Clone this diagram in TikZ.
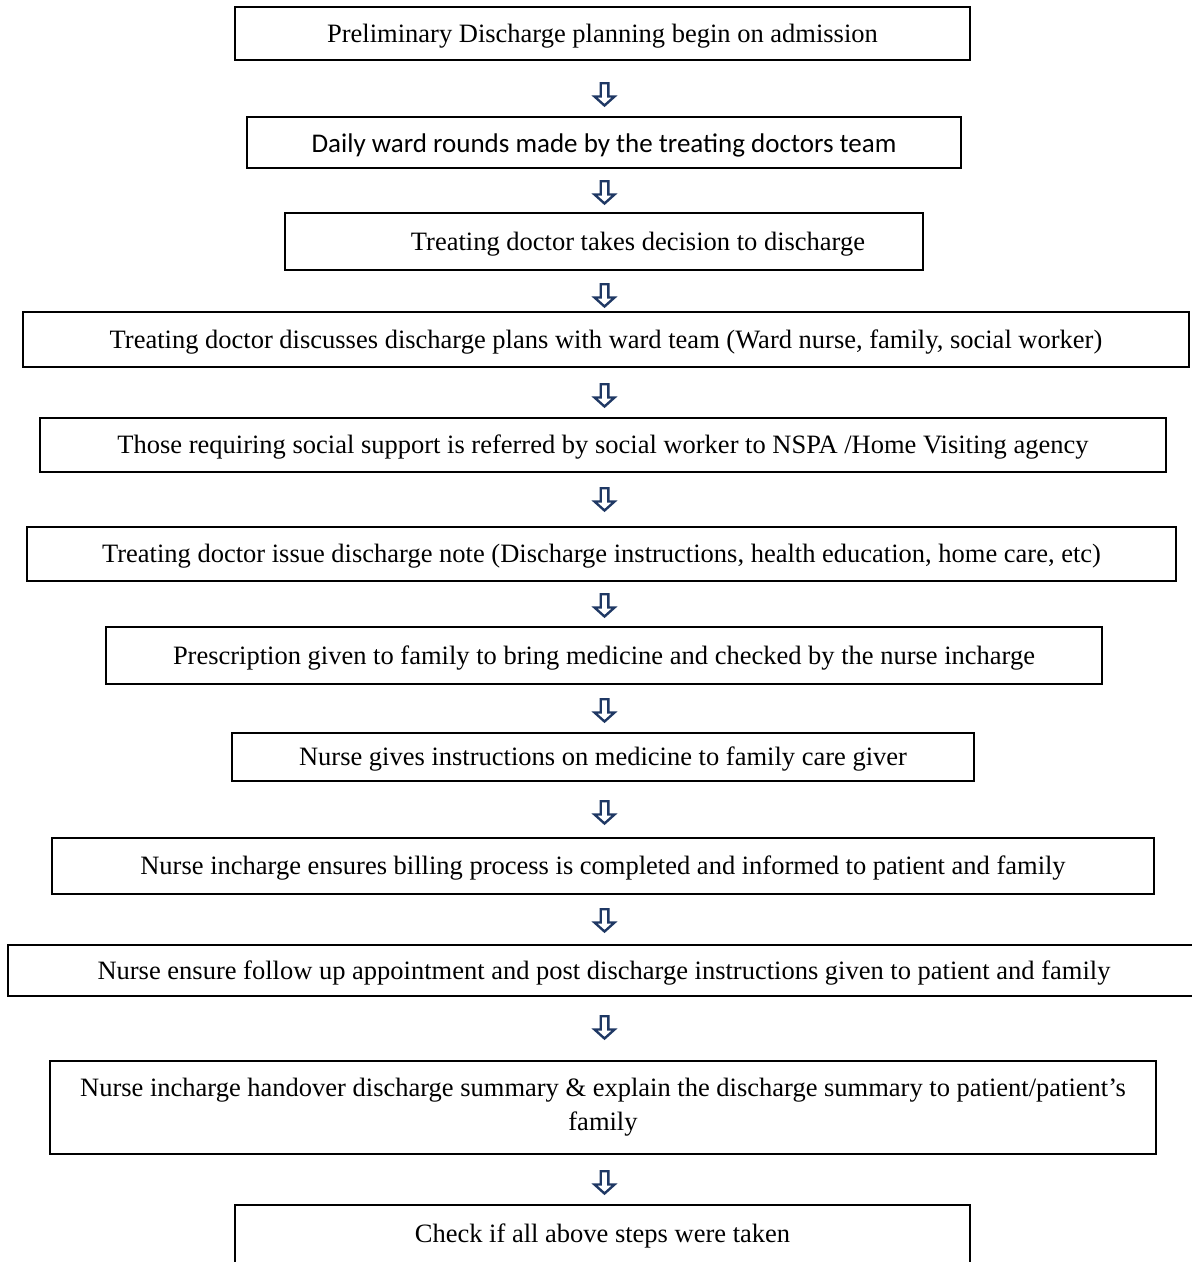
\documentclass[tikz,border=0pt]{standalone}
\usepackage{fontspec}
\setmainfont{Liberation Serif}
\newfontfamily\calibrifont{Carlito}
\definecolor{navy}{HTML}{1F3864}
\tikzset{
  x=1pt, y=-1pt,
  box/.style={draw, line width=1.3pt, inner sep=0pt, align=center,
    text height=18pt, text depth=1pt,
    font=\fontsize{26.5}{34}\selectfont},
  thickbox/.style={box, line width=2pt},
  downarrow/.pic={\draw[navy, line width=2.4pt, line join=miter, miter limit=20]
    (-3.8,1.2) -- (3.8,1.2) -- (3.8,14.5) -- (10,14.5) -- (0,23.5) -- (-10,14.5) -- (-3.8,14.5) -- cycle;}
}
\begin{document}
\begin{tikzpicture}
\useasboundingbox (0,0) rectangle (1192,1262);
\node[thickbox, minimum width=735pt, minimum height=53pt] (b1) at (602.5,33.5) {Preliminary Discharge planning begin on admission};
\node[box, minimum width=714pt, minimum height=51pt, text height=20pt, text depth=0pt, font=\calibrifont\fontsize{27}{34}\selectfont] (b2) at (604,142.5) {Daily ward rounds made by the treating doctors team};
\node[box, minimum width=638pt, minimum height=57pt] (b3) at (604,241.5) {\hspace*{68pt}Treating doctor takes decision to discharge};
\node[box, minimum width=1166pt, minimum height=55pt] (b4) at (606,339.5) {Treating doctor discusses discharge plans with ward team (Ward nurse, family, social worker)};
\node[thickbox, minimum width=1126pt, minimum height=54pt] (b5) at (603,445) {Those requiring social support is referred by social worker to NSPA /Home Visiting agency};
\node[box, minimum width=1149pt, minimum height=54pt] (b6) at (601.5,554) {Treating doctor issue discharge note (Discharge instructions, health education, home care, etc)};
\node[box, minimum width=996pt, minimum height=57pt] (b7) at (604,655.5) {Prescription given to family to bring medicine and checked by the nurse incharge};
\node[box, minimum width=742pt, minimum height=48pt] (b8) at (603,757) {Nurse gives instructions on medicine to family care giver};
\node[box, minimum width=1102pt, minimum height=56pt] (b9) at (603,866) {Nurse incharge ensures billing process is completed and informed to patient and family};
\node[box, minimum width=1192pt, minimum height=51pt] (b10) at (604,970.5) {Nurse ensure follow up appointment and post discharge instructions given to patient and family};
\node[box, minimum width=1106pt, minimum height=93pt, text height={}, text depth={}] (b11) at (603,1107.5) {Nurse incharge handover discharge summary \& explain the discharge summary to patient/patient’s\\family};
\node[thickbox, minimum width=735pt, minimum height=64pt, text depth=8pt] (b12) at (602.5,1237) {Check if all above steps were taken};
\pic at (604.5,82) {downarrow};
\pic at (604.5,180) {downarrow};
\pic at (604.5,283) {downarrow};
\pic at (604.5,383) {downarrow};
\pic at (604.5,487) {downarrow};
\pic at (604.5,593) {downarrow};
\pic at (604.5,698) {downarrow};
\pic at (604.5,800) {downarrow};
\pic at (604.5,908) {downarrow};
\pic at (604.5,1015) {downarrow};
\pic at (604.5,1170) {downarrow};
\end{tikzpicture}
\end{document}
